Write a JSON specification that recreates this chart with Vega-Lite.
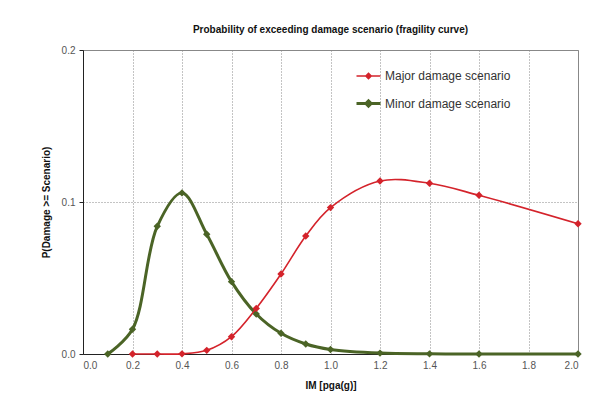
{
  "$schema": "https://vega.github.io/schema/vega-lite/v6.json",
  "width": 495,
  "height": 304,
  "autosize": {"type": "none"},
  "padding": {"left": 83, "top": 50, "right": 29, "bottom": 49},
  "background": "white",
  "title": {
    "text": "Probability of exceeding damage scenario (fragility curve)",
    "font": "Liberation Sans",
    "fontSize": 10,
    "fontWeight": "bold",
    "color": "#111",
    "anchor": "middle",
    "offset": 10
  },
  "config": {
    "view": {"stroke": "#888", "strokeWidth": 1},
    "axis": {
      "labelFont": "Liberation Sans",
      "titleFont": "Liberation Sans",
      "labelFontSize": 10,
      "labelColor": "#555",
      "titleFontSize": 10,
      "titleFontWeight": "bold",
      "titleColor": "#111",
      "gridColor": "#888",
      "gridDash": [1, 2],
      "gridOpacity": 1,
      "domainColor": "#222",
      "tickColor": "#222"
    },
    "legend": {
      "labelFont": "Liberation Sans",
      "labelFontSize": 12,
      "labelColor": "#333"
    }
  },
  "data": {
    "values": [
      {"im": 0.1, "p": 0.0, "series": "Minor damage scenario"},
      {"im": 0.2, "p": 0.0163, "series": "Minor damage scenario"},
      {"im": 0.3, "p": 0.084, "series": "Minor damage scenario"},
      {"im": 0.4, "p": 0.106, "series": "Minor damage scenario"},
      {"im": 0.5, "p": 0.0788, "series": "Minor damage scenario"},
      {"im": 0.6, "p": 0.0476, "series": "Minor damage scenario"},
      {"im": 0.7, "p": 0.0263, "series": "Minor damage scenario"},
      {"im": 0.8, "p": 0.0136, "series": "Minor damage scenario"},
      {"im": 0.9, "p": 0.0066, "series": "Minor damage scenario"},
      {"im": 1.0, "p": 0.003, "series": "Minor damage scenario"},
      {"im": 1.2, "p": 0.0006, "series": "Minor damage scenario"},
      {"im": 1.4, "p": 0.0001, "series": "Minor damage scenario"},
      {"im": 1.6, "p": 0.0, "series": "Minor damage scenario"},
      {"im": 2.0, "p": 0.0, "series": "Minor damage scenario"},
      {"im": 0.2, "p": 0.0, "series": "Major damage scenario"},
      {"im": 0.3, "p": 0.0, "series": "Major damage scenario"},
      {"im": 0.4, "p": 0.0001, "series": "Major damage scenario"},
      {"im": 0.5, "p": 0.0024, "series": "Major damage scenario"},
      {"im": 0.6, "p": 0.0114, "series": "Major damage scenario"},
      {"im": 0.7, "p": 0.030, "series": "Major damage scenario"},
      {"im": 0.8, "p": 0.0526, "series": "Major damage scenario"},
      {"im": 0.9, "p": 0.0776, "series": "Major damage scenario"},
      {"im": 1.0, "p": 0.0963, "series": "Major damage scenario"},
      {"im": 1.2, "p": 0.1138, "series": "Major damage scenario"},
      {"im": 1.4, "p": 0.1123, "series": "Major damage scenario"},
      {"im": 1.6, "p": 0.1044, "series": "Major damage scenario"},
      {"im": 2.0, "p": 0.0857, "series": "Major damage scenario"}
    ]
  },
  "encoding": {
    "x": {
      "field": "im",
      "type": "quantitative",
      "scale": {"domain": [0, 2], "nice": false},
      "axis": {
        "title": "IM [pga(g)]",
        "values": [0, 0.2, 0.4, 0.6, 0.8, 1.0, 1.2, 1.4, 1.6, 1.8, 2.0],
        "format": ".1f",
        "ticks": false,
        "labelPadding": 6,
        "titlePadding": 10
      }
    },
    "y": {
      "field": "p",
      "type": "quantitative",
      "scale": {"domain": [0, 0.2], "nice": false},
      "axis": {
        "title": "P(Damage >= Scenario)",
        "values": [0, 0.1, 0.2],
        "format": ".1f",
        "tickSize": 4,
        "labelPadding": 4,
        "titlePadding": 10
      }
    },
    "color": {
      "field": "series",
      "type": "nominal",
      "scale": {
        "domain": ["Major damage scenario", "Minor damage scenario"],
        "range": ["#d4232b", "#4b6426"]
      },
      "legend": {
        "title": null,
        "orient": "none",
        "legendX": 272,
        "legendY": 13,
        "symbolType": "M-1,0L1,0M-0.22,0L0,-0.22L0.22,0L0,0.22Z",
        "symbolSize": 576,
        "symbolStrokeWidth": 2,
        "rowPadding": 8,
        "labelOffset": 3
      }
    }
  },
  "layer": [
    {
      "mark": {"type": "line", "interpolate": "catmull-rom"},
      "encoding": {
        "strokeWidth": {
          "field": "series",
          "type": "nominal",
          "scale": {"domain": ["Major damage scenario", "Minor damage scenario"], "range": [1.6, 3]},
          "legend": null
        }
      }
    },
    {
      "mark": {"type": "point", "shape": "diamond", "filled": true, "size": 55, "opacity": 1},
      "encoding": {}
    }
  ]
}
